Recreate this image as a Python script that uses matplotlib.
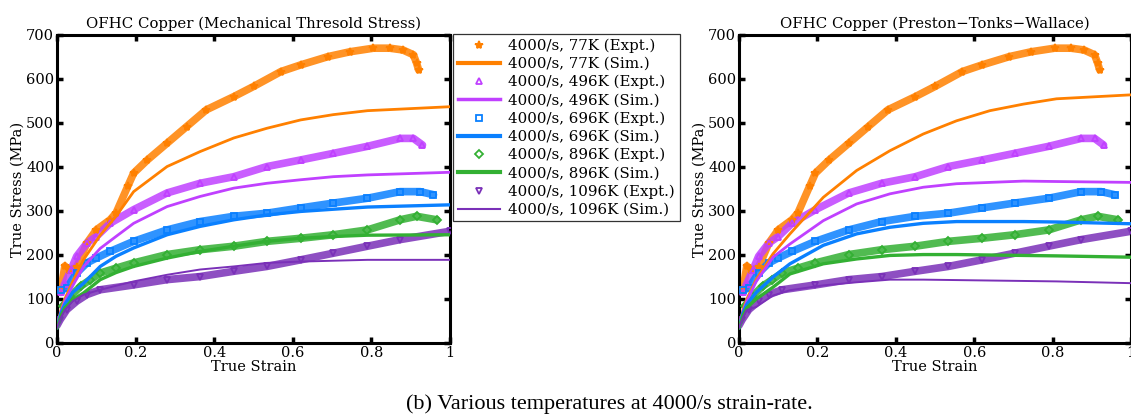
import matplotlib
matplotlib.use("Agg")
import matplotlib.pyplot as plt

# ---------------- data ----------------
# Experimental curves (same data in both panels)
exp77_x   = [0.01, 0.02, 0.03, 0.05, 0.076, 0.10, 0.135, 0.15, 0.18, 0.195, 0.23, 0.28, 0.33, 0.38, 0.45, 0.50, 0.57, 0.62, 0.69, 0.746, 0.805, 0.847, 0.88, 0.907, 0.915, 0.92]
exp77_y   = [120, 175, 165, 172, 227, 257, 280, 295, 356, 386, 416, 454, 492, 530, 560, 583, 617, 632, 651, 662, 670, 670, 666, 655, 636, 621]
exp496_x  = [0.01, 0.02, 0.035, 0.05, 0.076, 0.10, 0.135, 0.195, 0.28, 0.364, 0.45, 0.534, 0.62, 0.703, 0.79, 0.873, 0.907, 0.93]
exp496_y  = [115, 135, 165, 197, 227, 242, 272, 303, 341, 363, 378, 401, 416, 431, 447, 465, 465, 450]
exp696_x  = [0.01, 0.025, 0.05, 0.076, 0.10, 0.135, 0.195, 0.28, 0.364, 0.45, 0.534, 0.62, 0.703, 0.79, 0.873, 0.924, 0.958]
exp696_y  = [120, 125, 159, 182, 193, 208, 231, 257, 276, 288, 295, 307, 318, 329, 344, 344, 337]
exp896_x  = [0.015, 0.034, 0.06, 0.085, 0.11, 0.15, 0.195, 0.28, 0.364, 0.45, 0.534, 0.62, 0.703, 0.79, 0.873, 0.915, 0.966]
exp896_y  = [83, 106, 129, 144, 159, 170, 182, 201, 212, 220, 231, 238, 246, 257, 280, 288, 280]
exp1096_x = [0.0, 0.008, 0.025, 0.05, 0.076, 0.11, 0.195, 0.28, 0.364, 0.45, 0.534, 0.62, 0.703, 0.79, 0.873, 1.0]
exp1096_y = [40, 53, 76, 95, 110, 121, 132, 144, 151, 163, 174, 189, 204, 220, 235, 254]

# Simulations, Mechanical Threshold Stress model (left)
mts_x     = [0.0, 0.01, 0.02, 0.04, 0.068, 0.11, 0.15, 0.195, 0.28, 0.364, 0.45, 0.534, 0.62, 0.703, 0.79, 1.0]
mts77_y   = [35, 75, 100, 140, 190, 245, 288, 344, 401, 435, 466, 488, 507, 519, 528, 537]
mts496_y  = [35, 72, 95, 130, 174, 215, 242, 272, 310, 333, 352, 363, 371, 378, 382, 388]
mts696_y  = [35, 68, 88, 115, 136, 174, 197, 216, 246, 265, 280, 291, 299, 304, 309, 314]
mts896_y  = [35, 62, 80, 98, 114, 144, 160, 174, 193, 208, 220, 231, 238, 242, 245, 246]
mts1096_y = [35, 58, 75, 95, 110, 121, 130, 140, 155, 167, 174, 182, 185, 187, 189, 189]

# Simulations, Preston-Tonks-Wallace model (right)
ptw_x     = [0.0, 0.01, 0.02, 0.044, 0.087, 0.13, 0.215, 0.30, 0.385, 0.47, 0.555, 0.64, 0.726, 0.81, 1.0]
ptw77_y   = [35, 75, 100, 145, 203, 248, 331, 392, 437, 475, 505, 528, 543, 555, 564]
ptw496_y  = [35, 72, 95, 140, 195, 225, 278, 316, 339, 354, 362, 365, 368, 367, 365]
ptw696_y  = [35, 68, 88, 115, 150, 180, 222, 248, 263, 272, 276, 276, 276, 275, 271]
ptw896_y  = [35, 62, 80, 100, 127, 157, 180, 191, 199, 201, 201, 200, 199, 198, 195]
ptw1096_y = [35, 58, 75, 82, 108, 120, 131, 138, 144, 144, 143, 142, 141, 140, 136]

labels_T = ["77K", "496K", "696K", "896K", "1096K"]
colors = ["#FF8000", "#C040FF", "#0A80FF", "#33B033", "#7A30B8"]
markers = ["*", "^", "s", "D", "v"]
sim_lw = [2.0, 2.0, 2.4, 2.4, 1.4]

exp_x = [exp77_x, exp496_x, exp696_x, exp896_x, exp1096_x]
exp_y = [exp77_y, exp496_y, exp696_y, exp896_y, exp1096_y]
mts_y = [mts77_y, mts496_y, mts696_y, mts896_y, mts1096_y]
ptw_y = [ptw77_y, ptw496_y, ptw696_y, ptw896_y, ptw1096_y]

plt.rcParams['font.family'] = ['DejaVu Serif']
fig = plt.figure(figsize=(11.31, 4.18), dpi=100)

ax1 = fig.add_axes([57/1131, 1-343/418, 393/1131, 308/418])
ax2 = fig.add_axes([739/1131, 1-343/418, 392/1131, 308/418])

handles = []
for ax, simx, simy, title in [(ax1, mts_x, mts_y, "OFHC Copper (Mechanical Thresold Stress)"),
                              (ax2, ptw_x, ptw_y, "OFHC Copper (Preston\u2212Tonks\u2212Wallace)")]:
    hs = []
    for i in range(5):
        ax.plot(exp_x[i], exp_y[i], '-', color=colors[i], lw=5.5, alpha=0.85,
                solid_capstyle='round', zorder=2)
        he, = ax.plot(exp_x[i], exp_y[i], linestyle='none', marker=markers[i],
                      color=colors[i], ms=4.5 if markers[i] != '*' else 6,
                      mfc='none' if markers[i] != '*' else colors[i], mew=1.3, zorder=3,
                      label=f"4000/s, {labels_T[i]} (Expt.)")
        hs_line, = ax.plot(simx, simy[i], '-', color=colors[i], lw=sim_lw[i], zorder=4,
                           label=f"4000/s, {labels_T[i]} (Sim.)")
        hs += [he, hs_line]
    if not handles:
        handles = hs
    ax.set_xlim(0, 1)
    ax.set_ylim(0, 700)
    ax.set_xticks([0, 0.2, 0.4, 0.6, 0.8, 1])
    ax.set_xticklabels(["0", "0.2", "0.4", "0.6", "0.8", "1"])
    ax.set_yticks(range(0, 701, 100))
    ax.tick_params(direction='in', top=True, right=True, length=4, width=2.5,
                   labelsize=10.5, pad=2)
    for s in ax.spines.values():
        s.set_linewidth(2.2)
    ax.set_title(title, fontsize=10.7, pad=5)
    ax.set_xlabel("True Strain", fontsize=10.5, labelpad=0)
    ax.set_ylabel("True Stress (MPa)", fontsize=10.5, labelpad=1)

leg = fig.legend(handles=handles, loc='upper left',
                 bbox_to_anchor=(453/1131, 1-34/418), fontsize=10.8,
                 frameon=True, fancybox=False, edgecolor='black',
                 handlelength=2.8, handletextpad=0.6, borderpad=0.3,
                 labelspacing=0.27, borderaxespad=0)
leg.get_frame().set_linewidth(0.9)
for i, h in enumerate(leg.legend_handles):
    if i % 2 == 1:
        h.set_linewidth([3.0, 2.5, 3.0, 3.0, 1.5][i // 2])

fig.text(0.539, 1-404/418, "(b) Various temperatures at 4000/s strain-rate.",
         ha='center', va='center', fontsize=16, family='Liberation Serif')

fig.savefig("out.png", dpi=100)
